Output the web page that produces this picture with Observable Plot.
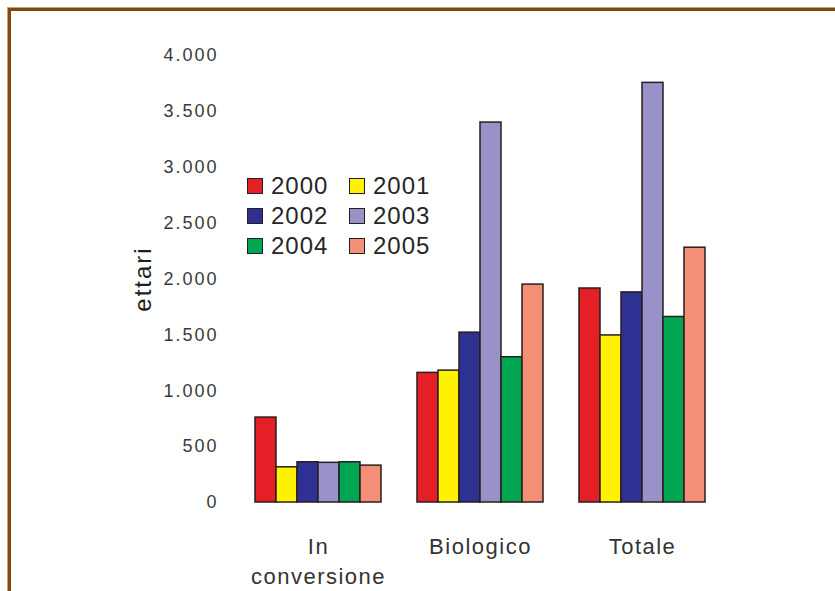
<!DOCTYPE html>
<html>
<head>
<meta charset="utf-8">
<script src="https://cdn.jsdelivr.net/npm/d3@7"></script>
<script src="https://cdn.jsdelivr.net/npm/@observablehq/plot@0.6"></script>
<style>
  html, body { margin: 0; padding: 0; background: #fff; }
  #page { position: relative; width: 835px; height: 591px; overflow: hidden; background: #fff; }
  #frame {
    position: absolute; left: 8px; top: 8px; width: 900px; height: 700px;
    border-top: 3px solid #7d4b0f; border-left: 3px solid #7d4b0f;
    box-shadow: -1px -1px 0 #c9a274;
  }
  #chart { position: absolute; left: 0; top: 0; }
  #chart svg { font-family: "Liberation Sans", Arial, sans-serif; }
  g[aria-label="y-axis tick label"] text { letter-spacing: 2px; }
  g[aria-label="fx-axis tick label"] text { letter-spacing: 1.5px; }
  g[aria-label="y-axis label"] text { letter-spacing: 2px; }
  #legend {
    position: absolute; left: 247px; top: 171px;
    display: grid; grid-template-columns: 102px 84px; grid-auto-rows: 30px;
    font-family: "Liberation Sans", Arial, sans-serif; font-size: 24px; color: #262626;
    letter-spacing: 1px;
  }
  #legend .item { display: flex; align-items: center; }
  #legend .sw { width: 14px; height: 14px; border: 1.5px solid #2b1d1d; margin-right: 8px; flex: none; }
</style>
</head>
<body>
<div id="page">
  <div id="frame"></div>
  <div id="chart"></div>
  <div id="legend"></div>
</div>
<script>
// Superficie a coltivazione biologica (ettari), per anno
const categories = ["In conversione", "Biologico", "Totale"];
const categoryLabels = ["In\nconversione", "Biologico", "Totale"];
const years = ["2000", "2001", "2002", "2003", "2004", "2005"];
const inConversione = [760, 315, 360, 355, 360, 330];
const biologico = [1160, 1180, 1520, 3400, 1300, 1950];
const totale = [1915, 1495, 1880, 3755, 1660, 2280];
const yTicks = [0, 500, 1000, 1500, 2000, 2500, 3000, 3500, 4000];
const yearColors = ["#e41f26", "#fff200", "#2e3192", "#9892c8", "#00a651", "#f38f76"];

const seriesByCategory = [inConversione, biologico, totale];
const data = categories.flatMap((cat, i) =>
  years.map((year, j) => ({cat, year, value: seriesByCategory[i][j]}))
);

const itFormat = d3.formatLocale({decimal: ",", thousands: ".", grouping: [3], currency: ["", "€"]}).format(",");
const labelOf = new Map(categories.map((c, i) => [c, categoryLabels[i]]));

const chart = Plot.plot({
  width: 835,
  height: 591,
  marginTop: 55,
  marginBottom: 89,
  marginLeft: 253,
  marginRight: 128,
  style: {background: "transparent", overflow: "visible"},
  fx: {domain: categories, paddingInner: 0.2, paddingOuter: 0},
  x: {domain: years, padding: 0, axis: null},
  y: {domain: [0, 4000]},
  color: {domain: years, range: yearColors},
  marks: [
    Plot.barY(data, {
      fx: "cat", x: "year", y: "value", fill: "year",
      stroke: "#2b1d1d", strokeWidth: 1.5
    }),
    Plot.axisY({
      ticks: yTicks, tickFormat: itFormat, tickSize: 0, tickPadding: 35,
      fontSize: 18, fill: "#3a3a3a",
      label: "ettari", labelAnchor: "center", labelArrow: "none", labelOffset: 120
    }),
    Plot.axisFx({
      anchor: "bottom", tickSize: 0, tickPadding: 30, label: null,
      tickFormat: (d) => labelOf.get(d), fontSize: 22, lineHeight: 1.38, fill: "#333"
    })
  ]
});
document.getElementById("chart").append(chart);

// Axis title styling
chart.querySelectorAll('g[aria-label="y-axis label"] text').forEach((t) => {
  t.setAttribute("font-size", "24");
  t.setAttribute("fill", "#1e1e1e");
});

// Legend: two columns, three rows
const legend = document.getElementById("legend");
years.forEach((year, j) => {
  const item = document.createElement("div");
  item.className = "item";
  const sw = document.createElement("span");
  sw.className = "sw";
  sw.style.background = yearColors[j];
  const label = document.createElement("span");
  label.textContent = year;
  item.append(sw, label);
  legend.append(item);
});
</script>
</body>
</html>
